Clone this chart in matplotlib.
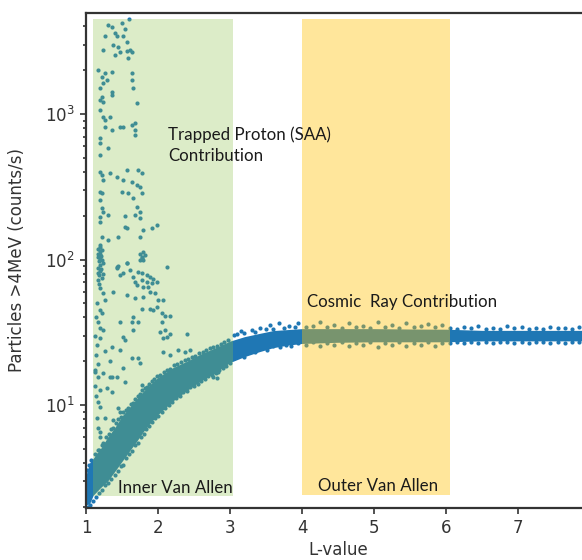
import matplotlib.pyplot as plt

# dense part of the counts band: lower / upper envelope vs L
band_l = [1.00, 1.05, 1.10, 1.20, 1.30, 1.40, 1.50, 1.60, 1.70, 1.80, 1.90, 2.00,
          2.20, 2.40, 2.60, 2.80, 3.00, 3.20, 3.40, 3.60, 3.80, 4.00, 4.50, 5.00,
          5.50, 6.00, 6.50, 7.00, 7.50, 8.00]
band_lo = [2.05, 2.1, 2.4, 2.7, 3.0, 3.5, 4.1, 4.8, 5.6, 6.6, 7.6, 8.6,
           10.6, 12.6, 14.7, 16.8, 19.6, 21.5, 23.2, 24.8, 25.8, 26.5, 27.0, 27.2,
           27.2, 27.2, 27.6, 27.6, 27.6, 27.6]
band_hi = [3.3, 4.0, 4.3, 5.0, 6.0, 7.0, 8.4, 9.6, 11.0, 12.5, 14.0, 15.5,
           18.0, 20.0, 22.5, 24.8, 27.5, 29.5, 31.0, 32.5, 33.0, 33.5, 33.5, 33.5,
           33.3, 33.2, 32.6, 32.6, 32.6, 32.6]

# individual samples along the band edges
edge_l = [1.02, 1.04, 1.07, 1.12, 1.15, 1.18, 1.22, 1.25, 1.28, 1.32, 1.35, 1.38, 1.42, 1.45, 1.48,
          1.52, 1.55, 1.58, 1.62, 1.65, 1.68, 1.72, 1.75, 1.78, 1.82, 1.85, 1.88, 1.92, 1.95, 1.98,
          2.03, 2.08, 2.12, 2.17, 2.22, 2.27, 2.32, 2.37, 2.42, 2.47, 2.52, 2.57, 2.62, 2.67, 2.72,
          2.77, 2.82, 2.87, 2.92, 2.97,
          1.03, 1.06, 1.10, 1.14, 1.18, 1.22, 1.27, 1.31, 1.35, 1.40, 1.44, 1.48, 1.52, 1.56, 1.60,
          1.64, 1.68, 1.72, 1.76, 1.80, 1.84, 1.88, 1.92, 1.96, 2.00, 2.05, 2.10, 2.15, 2.20, 2.25,
          2.30, 2.35, 2.40, 2.45, 2.50, 2.55, 2.60, 2.65, 2.70, 2.75, 2.80, 2.85, 2.90, 2.95, 3.00,
          2.63, 2.77, 2.82, 2.79, 2.83,
          3.05, 3.10, 3.15, 3.20, 3.30, 3.35, 3.42, 3.50, 3.55, 3.60, 3.68, 3.75, 3.82, 3.90, 3.95,
          4.05, 4.15, 4.25, 4.35, 4.45, 4.55, 4.65, 4.75, 4.85, 4.95, 5.05, 5.15, 5.25, 5.35, 5.45,
          5.55, 5.65, 5.75, 5.85, 5.95, 6.05, 6.15, 6.25, 6.35, 6.45, 6.55, 6.65, 6.75, 6.85, 6.95,
          7.05, 7.15, 7.25, 7.35, 7.45, 7.55, 7.65, 7.75, 7.85,
          3.05, 3.12, 3.20, 3.28, 3.35, 3.45, 3.52, 3.60, 3.70, 3.78, 3.85, 3.95, 4.05, 4.15, 4.25,
          4.35, 4.45, 4.55, 4.65, 4.75, 4.85, 4.95, 5.05, 5.15, 5.25, 5.35, 5.45, 5.55, 5.65, 5.75,
          5.85, 5.95, 6.05, 6.15, 6.25, 6.35, 6.45, 6.55, 6.65, 6.75, 6.85, 6.95, 7.05, 7.15, 7.25,
          7.35, 7.45, 7.55, 7.65, 7.75, 7.85]
edge_c = [3.6, 3.9, 4.2, 4.6, 4.5, 4.9, 5.3, 5.4, 6.0, 6.3, 6.8, 7.0, 7.5, 8.0, 8.3,
          8.9, 9.2, 9.6, 10.1, 10.4, 11.0, 11.5, 11.9, 12.6, 13.0, 13.3, 14.0, 14.6, 15.0, 15.8,
          16.2, 16.8, 17.5, 17.8, 18.8, 19.0, 19.8, 20.3, 20.8, 21.5, 21.8, 22.7, 23.2, 23.8, 24.5,
          25.0, 25.6, 26.2, 27.0, 27.8,
          1.98, 2.05, 2.2, 2.35, 2.5, 2.6, 2.8, 2.9, 3.1, 3.3, 3.5, 3.8, 3.9, 4.3, 4.6,
          4.8, 5.3, 5.5, 6.0, 6.3, 6.8, 7.2, 7.6, 8.1, 8.4, 8.9, 9.6, 10.0, 10.5, 11.2,
          11.6, 12.3, 12.5, 13.2, 13.6, 14.0, 14.6, 15.0, 15.8, 16.0, 16.6, 17.4, 18.0, 18.6, 19.5,
          17.4, 15.6, 15.3, 16.8, 17.0,
          30.5, 31.0, 32.5, 31.5, 33.0, 32.0, 34.0, 33.5, 35.5, 33.5, 36.5, 34.0, 35.0, 34.5, 36.5,
          34.5, 35.0, 37.0, 34.5, 35.5, 34.0, 36.5, 34.5, 35.0, 34.0, 37.0, 34.5, 35.5, 34.0, 36.5,
          34.5, 35.0, 36.0, 34.5, 35.5, 34.0, 33.5, 34.5, 33.8, 35.0, 33.5, 34.0, 33.5, 35.0, 33.8,
          34.2, 33.5, 34.0, 33.5, 34.5, 33.6, 34.0, 33.5, 34.2,
          21.0, 22.5, 21.5, 23.5, 23.0, 24.5, 24.0, 25.5, 25.0, 26.0, 25.5, 26.5, 26.0, 27.0, 25.5,
          26.5, 26.0, 27.0, 25.5, 26.5, 26.0, 27.0, 25.0, 26.5, 26.0, 27.0, 25.5, 26.5, 26.0, 27.0,
          25.5, 26.5, 26.5, 27.0, 26.5, 27.2, 26.8, 27.0, 26.5, 27.2, 27.0, 26.8, 27.2, 26.8, 27.0,
          27.2, 26.8, 27.0, 26.8, 27.2, 27.0]

# trapped proton (SAA) hits scattered above the band
saa_l = [1.31, 1.36, 1.26, 1.40, 1.50, 1.54, 1.60, 1.43, 1.51, 1.24, 1.38, 1.44, 1.40, 1.47, 1.57,
         1.61, 1.64, 1.58, 1.57, 1.17, 1.26, 1.36, 1.22, 1.29, 1.24, 1.64, 1.64, 1.65, 1.19, 1.36,
         1.36, 1.22, 1.19, 1.24, 1.71, 1.19, 1.24, 1.26, 1.33, 1.26, 1.36, 1.47, 1.51, 1.64, 1.68,
         1.68, 1.19,
         1.19, 1.31, 1.19, 1.68, 1.19, 1.22, 1.33, 1.43, 1.57, 1.72, 1.78, 1.24, 1.51, 1.64, 1.71,
         1.75, 1.19, 1.50, 1.58, 1.22, 1.78, 1.19, 1.65, 1.22, 1.24, 1.71, 1.75, 1.19, 1.31, 1.54,
         1.68, 1.75, 1.19, 1.54, 1.57, 1.99, 1.92, 1.79, 1.22, 1.31, 1.44, 1.75, 1.19, 1.22, 1.19,
         1.17, 1.79, 1.78, 1.75, 1.82, 1.57, 1.43, 1.44,
         1.43, 1.57, 1.61, 1.51, 1.47, 1.65, 1.72, 1.78, 1.85, 1.89, 1.93, 1.85, 1.92, 1.99, 1.78,
         1.68, 1.71, 1.79, 1.86, 2.13, 1.75, 1.79, 1.78, 1.24, 1.38, 1.26, 1.57, 1.68, 1.79, 1.89,
         1.96, 2.00, 2.07, 1.99, 1.89, 1.93, 2.06, 2.10, 2.17, 1.19, 1.22, 1.17, 1.65, 1.78, 1.47,
         1.64, 1.72, 2.06, 1.19, 1.24, 2.03, 2.10, 1.65, 1.19, 1.51, 1.54, 2.07, 2.13, 2.17, 2.40,
         1.36, 1.47, 1.26, 2.28, 2.38, 2.44, 2.07, 2.17, 1.33, 1.64, 1.72, 1.75, 1.12, 1.24, 1.36,
         1.51,
         1.12, 1.17, 1.33, 1.43, 1.54, 1.78, 1.19, 1.29, 1.36, 1.17, 1.19, 1.44, 1.47, 1.15, 1.26,
         1.38, 1.17, 1.19, 1.19, 1.24, 1.17,
         1.17, 1.18, 1.19, 1.17, 1.20, 1.18, 1.19, 1.21, 1.17, 1.20, 1.22, 1.16, 1.21, 1.23, 1.18,
         1.20, 1.16, 1.19, 1.24, 1.22,
         1.14, 1.15, 1.13, 1.16, 1.14, 1.15, 1.13, 1.14]
saa_c = [4100, 3950, 3450, 3600, 4200, 3850, 4500, 3450, 3450, 2750, 3000, 2900, 2550, 2650, 2700,
         2750, 2650, 2420, 3130, 2000, 1920, 1950, 1800, 1710, 1630, 1920, 1710, 1510, 1510, 1420,
         1350, 1300, 1250, 1210, 1190, 1065, 955, 910, 955, 815, 777, 815, 815, 840, 870,
         777, 690,
         630, 585, 525, 720, 400, 380, 395, 370, 412, 412, 395, 352, 352, 340, 325,
         315, 290, 290, 285, 285, 285, 256, 265, 225, 212, 228, 212, 195, 202, 198,
         202, 192, 182, 168, 165, 172, 165, 160, 143, 136, 143, 143, 126, 116, 110,
         104, 112, 102, 99, 108, 94, 89, 91,
         87, 94, 85, 81, 78, 76, 82, 81, 78, 76, 74, 70, 69, 70, 72,
         70, 67, 65, 65, 89, 110, 99, 104, 59, 60, 53, 57, 54, 55, 60,
         59, 53, 53, 47, 46, 45, 43, 41, 41, 45, 43, 37, 40, 46, 37,
         37, 37, 37, 34, 33, 32, 33, 33, 29, 29.5, 28, 29, 29.5, 31, 31,
         25, 24, 23.5, 24, 23, 24, 23, 22, 20, 21, 21, 19.5, 17.4, 16.6, 15.6,
         18,
         16.8, 15.6, 15.6, 15.6, 14.4, 13.7, 12.7, 13.1, 12.2, 10.5, 9.7, 9.5, 8.9, 8.1, 8.1,
         7.9, 7.0, 6.5, 6.0, 5.5, 4.9,
         72, 78, 84, 88, 92, 97, 101, 106, 110, 114, 75, 81, 86, 95, 68,
         64, 118, 122, 80, 100,
         22, 26, 30, 19, 40, 50, 13.5, 11.5]

pt_color = '#1f77b4'
ink = '#333333'

fig = plt.figure(figsize=(5.82, 5.6), dpi=100)
ax = fig.add_axes([86 / 582, 52 / 560, 504 / 582, 495 / 560])

ax.fill_between(band_l, band_lo, band_hi, color=pt_color, lw=0, zorder=1)
ax.scatter(edge_l, edge_c, s=9, color=pt_color, lw=0, zorder=2)
ax.scatter(saa_l, saa_c, s=9, color=pt_color, lw=0, zorder=2)

ax.set_yscale('log')
ax.set_xlim(1, 8)
ax.set_ylim(1.96, 4950)
ax.set_xticks([1, 2, 3, 4, 5, 6, 7])

# shaded belt regions, laid over the points
ax.axvspan(1.1, 3.04, ymin=0.024, ymax=0.988, color='#8BC34A', alpha=0.3, lw=0, zorder=3)
ax.axvspan(4.0, 6.06, ymin=0.026, ymax=0.988, color='#FFC107', alpha=0.4, lw=0, zorder=3)

note = dict(family='Lato', fontsize=12.2, color='#1a1a1a', ha='left', va='center', zorder=5)
ax.text(2.14, 612, 'Trapped Proton (SAA)\nContribution', linespacing=1.4, **note)
ax.text(4.07, 51, 'Cosmic  Ray Contribution', **note)
ax.text(1.44, 2.69, 'Inner Van Allen', **note)
ax.text(4.22, 2.77, 'Outer Van Allen', **note)

for side in ['left', 'bottom', 'top', 'right']:
    ax.spines[side].set_color(ink)
    ax.spines[side].set_linewidth(1.6)
ax.tick_params(which='both', colors=ink, labelsize=12, width=1.2)
ax.tick_params(which='major', length=4.5)
ax.tick_params(which='minor', length=2.5)

ax.set_xlabel('L-value', fontsize=12, color=ink)
ax.set_ylabel('Particles >4MeV (counts/s)', fontsize=12, color=ink)
ax.xaxis.set_label_coords(0.5, -0.066)
ax.yaxis.set_label_coords(-0.12, 0.5)

fig.savefig('out.png', dpi=100)
